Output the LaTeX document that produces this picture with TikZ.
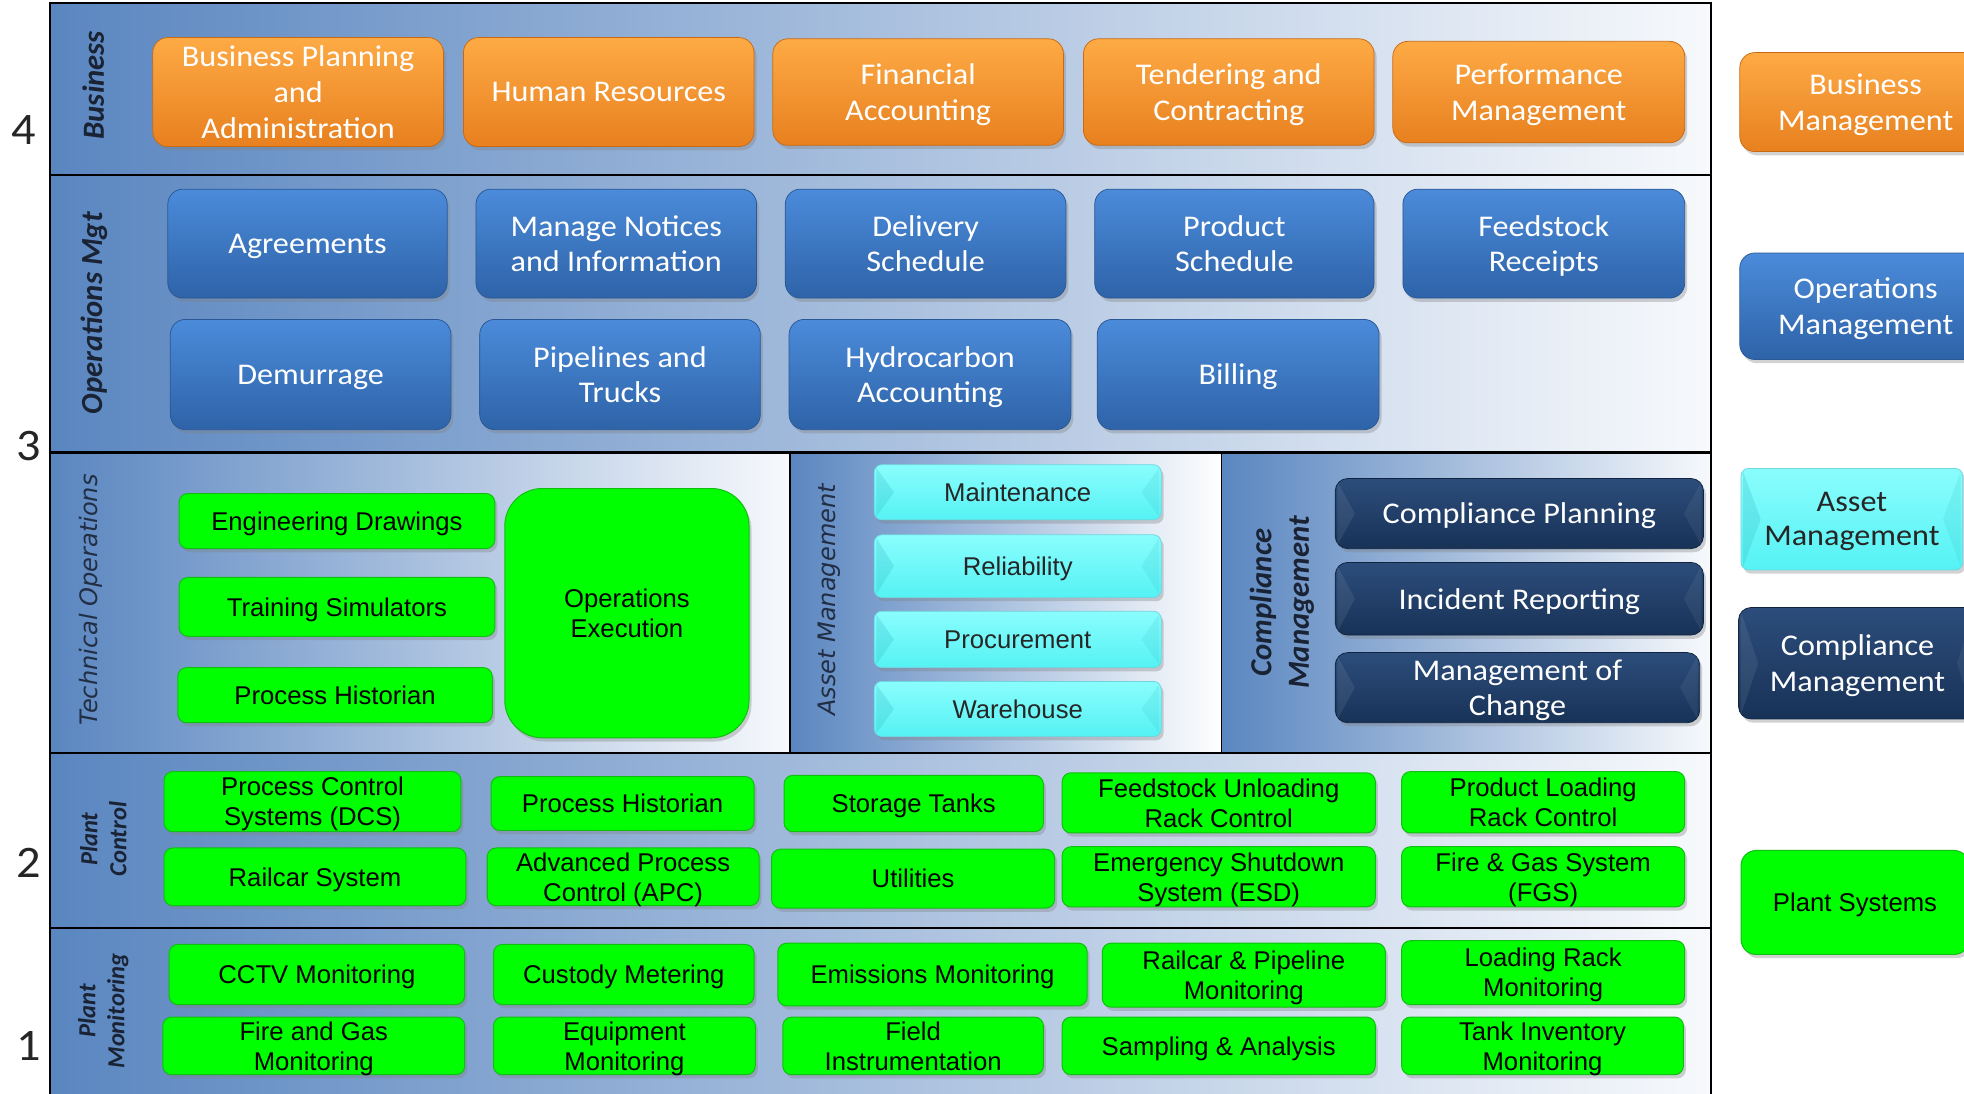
\documentclass[tikz,border=0pt]{standalone}
\usepackage{fontspec}
\usetikzlibrary{shadows}
\newfontfamily\fCal{Carlito}[FakeStretch=1.07]
\newfontfamily\fCalR{Carlito}
\newfontfamily\fAri{Liberation Sans}
\newfontfamily\fDv{DejaVu Sans}

\definecolor{bandblue}{HTML}{5A86C0}
\definecolor{bandwhite}{HTML}{F7F9FC}
\definecolor{orT}{HTML}{FDAA45}
\definecolor{orB}{HTML}{E8801F}
\definecolor{orD}{HTML}{C96A12}
\definecolor{blT}{HTML}{4B8BDA}
\definecolor{blB}{HTML}{2E63A8}
\definecolor{blD}{HTML}{2A5896}
\definecolor{grF}{HTML}{00FF00}
\definecolor{grD}{HTML}{10C010}
\definecolor{cyT}{HTML}{8AFDFD}
\definecolor{cyB}{HTML}{55F2F4}
\definecolor{cyD}{HTML}{6FD6DE}
\definecolor{cyW}{HTML}{2FB8C4}
\definecolor{nvT}{HTML}{2C4D7B}
\definecolor{nvB}{HTML}{183257}
\definecolor{nvD}{HTML}{10243F}
\definecolor{lblc}{HTML}{1A2334}
\definecolor{lblr}{HTML}{222E44}

\tikzset{
  boxbase/.style={inner sep=0pt, align=center, text depth=0pt,
    drop shadow={opacity=0.35, shadow xshift=2pt, shadow yshift=-3pt}},
  orbox/.style={boxbase, rounded corners=12pt, top color=orT, bottom color=orB,
    draw=orD, line width=0.6pt, text=white, font=\fCal\fontsize{24}{28.5}\selectfont},
  blbox/.style={boxbase, rounded corners=12pt, top color=blT, bottom color=blB,
    draw=blD, line width=0.6pt, text=white, font=\fCal\fontsize{24}{28.5}\selectfont},
  grbox/.style={boxbase, rounded corners=7pt, fill=grF, draw=grD, line width=0.8pt,
    text=black, font=\fAri\fontsize{20.5}{24}\selectfont},
  cybox/.style={boxbase, rounded corners=6pt, top color=cyT, bottom color=cyB,
    draw=cyD, line width=0.6pt, text=black!85, font=\fAri\fontsize{20.5}{24}\selectfont},
  nvbox/.style={boxbase, rounded corners=10pt, top color=nvT, bottom color=nvB,
    draw=nvD, line width=0.6pt, text=white, font=\fCal\fontsize{24}{28.5}\selectfont},
  sidelbl/.style={rotate=90, align=center, inner sep=0pt, text=lblc,
    font=\fCalR\bfseries\itshape\fontsize{24.5}{30}\selectfont},
  sidesmall/.style={sidelbl, font=\fCalR\bfseries\itshape\fontsize{19.6}{23}\selectfont},
  sidereg/.style={rotate=90, align=center, inner sep=0pt, text=lblr,
    font=\fDv\itshape\fontsize{19.2}{23}\selectfont},
  numlbl/.style={inner sep=0pt, text=black!85, font=\fCal\fontsize{36}{40}\selectfont},
  divline/.style={line width=1.8pt, black},
}

\newcommand\BX[7]{\node[#1, minimum width={(#5-#3)*1pt}, minimum height={(#6-#4)*1pt}] (#2) at ({(#3+#5)/2},{(#4+#6)/2}) {#7};}
\newcommand\bevel[4]{%
  \fill[#2, opacity=#3] ([shift={(2,3)}]#1.north west) -- ([shift={(16,0)}]#1.west) -- ([shift={(2,-3)}]#1.south west) -- cycle;
  \fill[#2, opacity=#4] ([shift={(-2,3)}]#1.north east) -- ([shift={(-16,0)}]#1.east) -- ([shift={(-2,-3)}]#1.south east) -- cycle;
}

\begin{document}
\begin{tikzpicture}[x=1pt, y=-1pt]
\useasboundingbox (0,0) rectangle (1568,873);
\fill[white] (0,0) rectangle (1568,873);

% bands
\fill[left color=bandblue, right color=bandwhite] (40,2) rectangle (1366,140);
\fill[left color=bandblue, right color=bandwhite] (40,140) rectangle (1366,361);
\fill[left color=bandblue, right color=bandwhite] (40,361) rectangle (631,601);
\fill[left color=bandblue, right color=white] (631,361) rectangle (975,601);
\fill[left color=bandblue, right color=bandwhite] (975,361) rectangle (1366,601);
\fill[left color=bandblue, right color=bandwhite] (40,601) rectangle (1366,741);
\fill[left color=bandblue, right color=bandwhite] (40,741) rectangle (1366,880);

% frame and dividers
\draw[line width=1.5pt] (40,2.5) rectangle (1366,880);
\draw[divline] (40,140) -- (1366,140);
\draw[divline, line width=2.6pt] (40,361) -- (1366,361);
\draw[divline] (40,601) -- (1366,601);
\draw[divline] (40,741) -- (1366,741);
\draw[divline] (631,361) -- (631,601);
\draw[divline, line width=1.2pt] (975,361) -- (975,601);

% level numbers
\node[numlbl] (n4) at (19,104) {4};
\node[numlbl] (n3) at (23,356) {3};
\node[numlbl] (n2) at (23,689) {2};
\node[numlbl] (n1) at (23,835) {1};

% side labels
\node[sidelbl] (lbus) at (74.5,68) {Business};
\node[sidelbl] (lops) at (75,250) {Operations Mgt};
\node[sidereg] (ltec) at (72.5,479) {Technical Operations};
\node[sidereg] (lass) at (662,479) {Asset Management};
\node[sidelbl] (lcom) at (1023.5,481) {Compliance\\Management};
\node[sidesmall] (lpc) at (82.5,670) {Plant\\Control};
\node[sidesmall] (lpm) at (82.5,807) {Plant\\Monitoring};

% Business row
\BX{orbox}{bpa}{122}{30}{354}{117}{Business Planning\\and\\Administration}
\BX{orbox}{hr}{370}{30}{602}{117}{Human Resources}
\BX{orbox}{fa}{617}{31}{849}{116}{Financial\\Accounting}
\BX{orbox}{tc}{865}{31}{1097}{116}{Tendering and\\Contracting}
\BX{orbox}{pm}{1112}{33}{1345}{114}{Performance\\Management}
\BX{orbox}{lgbm}{1389}{42}{1590}{121}{Business\\Management}

% Operations Mgt row
\BX{blbox}{agr}{134}{151}{357}{238}{Agreements}
\BX{blbox}{mni}{380}{151}{604}{238}{Manage Notices\\and Information}
\BX{blbox}{ds}{627}{151}{851}{238}{Delivery\\Schedule}
\BX{blbox}{ps}{874}{151}{1097}{238}{Product\\Schedule}
\BX{blbox}{fr}{1120}{151}{1345}{238}{Feedstock\\Receipts}
\BX{blbox}{dem}{136}{255}{360}{343}{Demurrage}
\BX{blbox}{pt}{383}{255}{607}{343}{Pipelines and\\Trucks}
\BX{blbox}{hca}{630}{255}{855}{343}{Hydrocarbon\\Accounting}
\BX{blbox}{bil}{876}{255}{1101}{343}{Billing}
\BX{blbox}{lgom}{1389}{202}{1590}{287}{Operations\\Management}

% Technical operations
\BX{grbox}{ed}{143}{394}{395}{438}{Engineering Drawings}
\BX{grbox}{ts}{143}{461}{395}{508}{Training Simulators}
\BX{grbox}{ph1}{142}{533}{393}{577}{Process Historian}
\BX{grbox, rounded corners=30pt}{oe}{403}{390}{598}{589}{Operations\\Execution}

% Asset management
\BX{cybox}{mnt}{698}{371}{927}{415}{Maintenance}
\BX{cybox}{rel}{698}{427}{927}{477}{Reliability}
\BX{cybox}{prc}{698}{488}{927}{533}{Procurement}
\BX{cybox}{wh}{698}{544}{927}{588}{Warehouse}
\BX{cybox, font=\fCal\fontsize{24}{27}\selectfont}{lgam}{1390}{374}{1567}{455}{Asset\\Management}
\bevel{mnt}{cyW}{0.25}{0.15}
\bevel{rel}{cyW}{0.25}{0.15}
\bevel{prc}{cyW}{0.25}{0.15}
\bevel{wh}{cyW}{0.25}{0.15}
\bevel{lgam}{cyW}{0.25}{0.15}

% Compliance management
\BX{nvbox}{cp}{1066}{382}{1360}{438}{Compliance Planning}
\BX{nvbox}{ir}{1066}{449}{1360}{507}{Incident Reporting}
\BX{nvbox}{moc}{1066}{521}{1357}{577}{Management of\\Change}
\BX{nvbox}{lgcm}{1388}{485}{1578}{574}{Compliance\\Management}
\bevel{cp}{white}{0.08}{0.06}
\bevel{ir}{white}{0.08}{0.06}
\bevel{moc}{white}{0.08}{0.06}
\bevel{lgcm}{white}{0.08}{0.06}

% Plant control
\BX{grbox}{dcs}{131}{616}{368}{664}{Process Control\\Systems (DCS)}
\BX{grbox}{ph2}{392}{620}{602}{663}{Process Historian}
\BX{grbox}{st}{626}{619}{833}{664}{Storage Tanks}
\BX{grbox}{fur}{848}{617}{1098}{665}{Feedstock Unloading\\Rack Control}
\BX{grbox}{plr}{1119}{616}{1345}{665}{Product Loading\\Rack Control}
\BX{grbox}{rs}{131}{677}{372}{723}{Railcar System}
\BX{grbox}{apc}{389}{677}{606}{723}{Advanced Process\\Control (APC)}
\BX{grbox}{ut}{616}{678}{842}{725}{Utilities}
\BX{grbox}{esd}{848}{676}{1098}{724}{Emergency Shutdown\\System (ESD)}
\BX{grbox}{fgs}{1119}{676}{1345}{724}{Fire \& Gas System\\(FGS)}
\BX{grbox, rounded corners=12pt}{lgps}{1390}{679}{1572}{762}{Plant Systems}

% Plant monitoring
\BX{grbox}{cctv}{135}{754}{371}{802}{CCTV Monitoring}
\BX{grbox}{cm}{394}{754}{602}{802}{Custody Metering}
\BX{grbox}{em}{621}{753}{868}{803}{Emissions Monitoring}
\BX{grbox}{rpm}{880}{753}{1106}{804}{Railcar \& Pipeline\\Monitoring}
\BX{grbox}{lrm}{1119}{751}{1345}{802}{Loading Rack\\Monitoring}
\BX{grbox}{fgm}{130}{812}{371}{858}{Fire and Gas\\Monitoring}
\BX{grbox}{eqm}{394}{812}{603}{858}{Equipment\\Monitoring}
\BX{grbox}{fi}{625}{812}{833}{858}{Field\\Instrumentation}
\BX{grbox}{sa}{848}{812}{1098}{858}{Sampling \& Analysis}
\BX{grbox}{tim}{1119}{812}{1344}{858}{Tank Inventory\\Monitoring}
\end{tikzpicture}
\end{document}
